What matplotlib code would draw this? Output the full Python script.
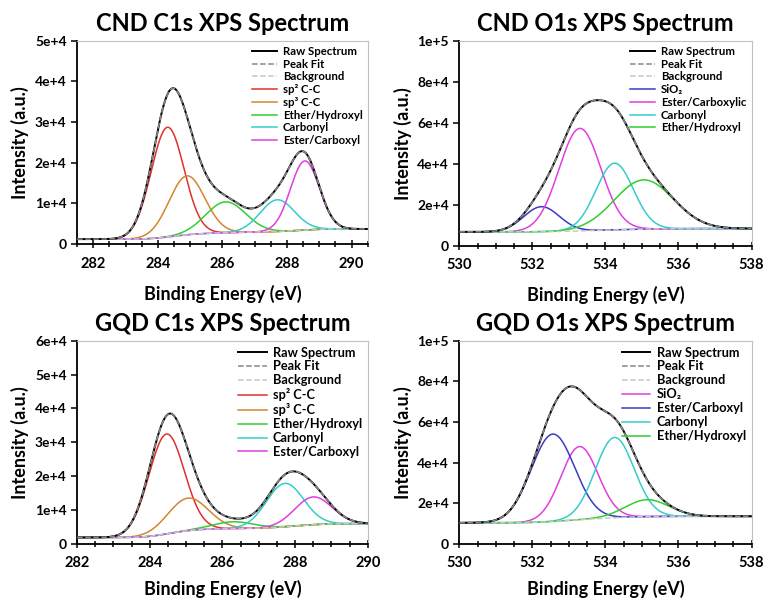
import numpy as np
import matplotlib
matplotlib.use('Agg')
from matplotlib import pyplot as plt
from matplotlib.ticker import FuncFormatter, MultipleLocator

plt.rcParams['font.family'] = ['Lato', 'DejaVu Sans']
plt.rcParams['font.weight'] = 'bold'

RED, ORANGE, GREEN, CYAN, MAGENTA, BLUE = '#e0302e', '#d4852f', '#2fcf2f', '#35cccc', '#e03ee0', '#3a3ac8'

# ---- peak fit parameters (centre eV, height above bg, FWHM eV)
cnd_c_names = ['sp² C-C', 'sp³ C-C', 'Ether/Hydroxyl', 'Carbonyl', 'Ester/Carboxyl']
cnd_c_colors = [RED, ORANGE, GREEN, CYAN, MAGENTA]
cnd_c_center = [284.3, 284.9, 286.1, 287.7, 288.55]
cnd_c_height = [2.7e4, 1.45e4, 7.6e3, 7.8e3, 1.7e4]
cnd_c_fwhm = [1.2, 1.3, 1.45, 1.25, 1.05]
cnd_c_bg = [1.2e3, 3.7e3]

cnd_o_names = ['SiO₂', 'Ester/Carboxylic', 'Carbonyl', 'Ether/Hydroxyl']
cnd_o_colors = [BLUE, MAGENTA, CYAN, GREEN]
cnd_o_center = [532.25, 533.3, 534.25, 535.05]
cnd_o_height = [1.22e4, 5.0e4, 3.25e4, 2.4e4]
cnd_o_fwhm = [1.15, 1.35, 1.2, 1.9]
cnd_o_bg = [6.8e3, 8.4e3]

gqd_c_names = ['sp² C-C', 'sp³ C-C', 'Ether/Hydroxyl', 'Carbonyl', 'Ester/Carboxyl']
gqd_c_colors = [RED, ORANGE, GREEN, CYAN, MAGENTA]
gqd_c_center = [284.46, 285.05, 286.3, 287.72, 288.5]
gqd_c_height = [2.95e4, 9.6e3, 2.0e3, 1.28e4, 8.2e3]
gqd_c_fwhm = [1.15, 1.3, 1.3, 1.2, 1.2]
gqd_c_bg = [1.9e3, 6.0e3]

gqd_o_names = ['SiO₂', 'Ester/Carboxyl', 'Carbonyl', 'Ether/Hydroxyl']
gqd_o_colors = [MAGENTA, BLUE, CYAN, GREEN]
gqd_o_center = [533.29, 532.56, 534.25, 535.14]
gqd_o_height = [3.6e4, 4.3e4, 3.95e4, 8.3e3]
gqd_o_fwhm = [1.2, 1.4, 1.25, 1.4]
gqd_o_bg = [1.04e4, 1.36e4]


def gauss(x, c, h, w):
    return h * np.exp(-4 * np.log(2) * ((x - c) / w) ** 2)


def sci(v, pos):
    if v <= 0:
        return '0'
    e = int(np.floor(np.log10(v) + 1e-9))
    return '%de+%d' % (round(v / 10 ** e), e)


def panel(ax, title, xlim, ymax, ystep, names, colors, center, height, fwhm, bg, legsize, xpad):
    x = np.linspace(xlim[0], xlim[1], 600)
    peaks = [gauss(x, c, h, w) for c, h, w in zip(center, height, fwhm)]
    total = np.sum(peaks, axis=0)
    cum = np.cumsum(total)
    back = bg[0] + (bg[1] - bg[0]) * cum / cum[-1]   # shirley type step
    fit = back + total

    ax.plot(x, fit, color='black', lw=1.4, label='Raw Spectrum', zorder=4)
    ax.plot(x, fit, color='#888888', lw=1.1, ls='--', label='Peak Fit', zorder=5)
    ax.plot(x, back, color='#c8c8c8', lw=1.1, ls='--', label='Background', zorder=3)
    for p, n, col in zip(peaks, names, colors):
        ax.plot(x, back + p, color=col, lw=1.1, label=n)

    ax.set_xlim(xlim)
    ax.set_ylim(0, ymax)
    ax.xaxis.set_major_locator(MultipleLocator(2))
    ax.xaxis.set_minor_locator(MultipleLocator(0.5))
    ax.yaxis.set_major_locator(MultipleLocator(ystep))
    ax.yaxis.set_major_formatter(FuncFormatter(sci))
    ax.tick_params(axis='x', which='both', direction='inout', length=6, width=1.1, labelsize=10.5, pad=6)
    ax.tick_params(axis='x', which='minor', length=4)
    ax.tick_params(axis='y', direction='out', length=4, width=1.1, labelsize=10)
    for s in ['left', 'bottom']:
        ax.spines[s].set_linewidth(1.3)
    for s in ['top', 'right']:
        ax.spines[s].set_color('#c0c0c0')
        ax.spines[s].set_linewidth(0.8)
    ax.set_title(title, fontsize=17, fontweight='bold', pad=7)
    ax.set_xlabel('Binding Energy (eV)', fontsize=13, fontweight='bold', labelpad=xpad)
    ax.set_ylabel('Intensity (a.u.)', fontsize=13, fontweight='bold', labelpad=4)
    ax.legend(loc='upper right', frameon=False, prop={'size': legsize, 'weight': 'bold'},
              handlelength=2.2, labelspacing=0.15, borderaxespad=0.15,
              borderpad=0.3, handletextpad=0.5)


fig = plt.figure(figsize=(7.63, 6.01), dpi=100)
ax1 = fig.add_axes([0.101, 0.594, 0.381, 0.338])
ax2 = fig.add_axes([0.602, 0.591, 0.383, 0.341])
ax3 = fig.add_axes([0.101, 0.095, 0.381, 0.338])
ax4 = fig.add_axes([0.602, 0.095, 0.383, 0.338])

panel(ax1, 'CND C1s XPS Spectrum', (281.5, 290.5), 5e4, 1e4,
      cnd_c_names, cnd_c_colors, cnd_c_center, cnd_c_height, cnd_c_fwhm, cnd_c_bg, 8.2, 10)
panel(ax2, 'CND O1s XPS Spectrum', (530, 538), 1e5, 2e4,
      cnd_o_names, cnd_o_colors, cnd_o_center, cnd_o_height, cnd_o_fwhm, cnd_o_bg, 8.2, 10)
panel(ax3, 'GQD C1s XPS Spectrum', (282, 290), 6e4, 1e4,
      gqd_c_names, gqd_c_colors, gqd_c_center, gqd_c_height, gqd_c_fwhm, gqd_c_bg, 9.2, 7)
panel(ax4, 'GQD O1s XPS Spectrum', (530, 538), 1e5, 2e4,
      gqd_o_names, gqd_o_colors, gqd_o_center, gqd_o_height, gqd_o_fwhm, gqd_o_bg, 9.2, 7)

fig.savefig('out.png', dpi=100)
